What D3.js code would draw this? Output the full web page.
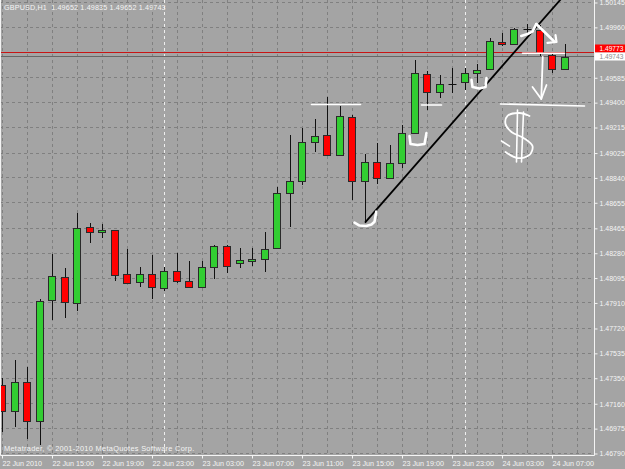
<!DOCTYPE html>
<html>
<head>
<meta charset="utf-8">
<script src="https://cdn.jsdelivr.net/npm/d3@7"></script>
<style>
  html, body { margin: 0; padding: 0; background: #a4a4a4; }
  svg { display: block; }
</style>
</head>
<body>
<div id="wrapper"></div>
<script>
// GBPUSD H1, bars from 22 Jun 11:00 to 24 Jun 08:00
const symbolTitle = "GBPUSD,H1  1.49652 1.49835 1.49652 1.49743"
const copyright = "Metatrader, \u00a9 2001-2010 MetaQuotes Software Corp."

const open  = [1.47300, 1.47108, 1.47320, 1.47034, 1.47930, 1.48103, 1.47912, 1.48477, 1.48436, 1.48453,
               1.48123, 1.48068, 1.48123, 1.48023, 1.48148, 1.48075, 1.48026, 1.48175, 1.48334, 1.48205,
               1.48222, 1.48235, 1.48316, 1.48726, 1.48817, 1.49105, 1.49159, 1.49011, 1.49295, 1.48819,
               1.48958, 1.48837, 1.48949, 1.49172, 1.49615, 1.49481, 1.49537, 1.49554, 1.49623, 1.49648,
               1.49853, 1.49834, 1.49946, 1.49940, 1.49754, 1.49652]
const high  = [1.47352, 1.47486, 1.47436, 1.47939, 1.48274, 1.48168, 1.48577, 1.48502, 1.48495, 1.48455,
               1.48311, 1.48180, 1.48267, 1.48180, 1.48279, 1.48220, 1.48222, 1.48338, 1.48338, 1.48319,
               1.48321, 1.48436, 1.48775, 1.49159, 1.49214, 1.49276, 1.49442, 1.49375, 1.49308, 1.49016,
               1.49098, 1.49083, 1.49234, 1.49717, 1.49635, 1.49606, 1.49660, 1.49656, 1.49688, 1.49879,
               1.49916, 1.49953, 1.49985, 1.49978, 1.49767, 1.49835]
const low   = [1.46950, 1.46989, 1.46898, 1.46853, 1.47783, 1.47796, 1.47852, 1.48358, 1.48395, 1.48073,
               1.48050, 1.48031, 1.47939, 1.47999, 1.48056, 1.48022, 1.48019, 1.48088, 1.48135, 1.48172,
               1.48185, 1.48138, 1.48312, 1.48477, 1.48787, 1.49031, 1.49008, 1.49004, 1.48676, 1.48507,
               1.48795, 1.48834, 1.48912, 1.49165, 1.49345, 1.49432, 1.49470, 1.49494, 1.49546, 1.49645,
               1.49821, 1.49830, 1.49911, 1.49747, 1.49623, 1.49652]
const close = [1.47108, 1.47320, 1.47034, 1.47924, 1.48108, 1.47917, 1.48470, 1.48436, 1.48453, 1.48120,
               1.48056, 1.48128, 1.48026, 1.48150, 1.48073, 1.48026, 1.48180, 1.48334, 1.48187, 1.48227,
               1.48239, 1.48313, 1.48726, 1.48815, 1.49105, 1.49152, 1.49011, 1.49303, 1.48819, 1.48958,
               1.48842, 1.48949, 1.49172, 1.49618, 1.49481, 1.49537, 1.49537, 1.49618, 1.49643, 1.49861,
               1.49834, 1.49946, 1.49946, 1.49767, 1.49648, 1.49743]

const yTicks = [1.50145, 1.49960, 1.49585, 1.49400, 1.49215, 1.49025, 1.48840, 1.48655, 1.48465,
                1.48280, 1.48095, 1.47910, 1.47720, 1.47535, 1.47350, 1.47160, 1.46975, 1.46790]
const xTickBars = [0, 4, 8, 12, 16, 20, 24, 28, 32, 36, 40, 44]
const xTickLabels = ["22 Jun 2010", "22 Jun 15:00", "22 Jun 19:00", "22 Jun 23:00", "23 Jun 03:00",
                     "23 Jun 07:00", "23 Jun 11:00", "23 Jun 15:00", "23 Jun 19:00", "23 Jun 23:00",
                     "24 Jun 03:00", "24 Jun 07:00"]
const daySeparators = [13, 37]
const bidPrice = 1.49743
const askPrice = 1.49773

// drawings on the chart, as [bar, price]
const trendLine = [[29, 1.48507], [45, 1.50205]]
const whiteStrokes = [
  {w: 2.6, pts: [[28.16, 1.48507], [28.56, 1.48486], [29.10, 1.48482], [29.52, 1.48494], [29.76, 1.48514], [29.90, 1.48589]]},
  {w: 1.6, pts: [[24.72, 1.49386], [28.64, 1.49386]]},
  {w: 2.6, pts: [[32.56, 1.49152], [32.64, 1.49092], [33.2, 1.49085], [33.76, 1.49092], [33.92, 1.49174]]},
  {w: 1.6, pts: [[33.52, 1.49383], [35.12, 1.49383]]},
  {w: 2.6, pts: [[37.52, 1.49569], [37.6, 1.49516], [38.16, 1.49505], [38.64, 1.49516], [38.72, 1.49583]]},
  {w: 2.6, pts: [[41.5, 1.49896], [42.0, 1.49911], [42.4, 1.49928], [42.7, 1.49985]]},
  {w: 2.6, pts: [[42.7, 1.49985], [44.16, 1.49853]]},
  {w: 2.2, pts: [[43.6, 1.49844], [44.32, 1.49851], [44.24, 1.49903]]},
  {w: 1.6, pts: [[41.6, 1.49767], [44.96, 1.49767]]},
  {w: 1.8, pts: [[43.22, 1.49740], [43.1, 1.49427]]},
  {w: 1.8, pts: [[42.4, 1.49516], [43.1, 1.49427], [43.52, 1.49531]]},
  {w: 1.6, pts: [[39.84, 1.49390], [46.56, 1.49375]]},
  {w: 1.8, curve: true, pts: [[42.16, 1.49301], [41.36, 1.49323], [40.4, 1.49301], [40.24, 1.49241], [40.72, 1.49182],
                              [41.68, 1.49137], [42.4, 1.49077], [42.16, 1.49011], [41.2, 1.48988], [40.24, 1.49033]]},
  {w: 1.6, pts: [[41.2, 1.49345], [41.12, 1.48958]]},
  {w: 1.6, pts: [[41.68, 1.49330], [41.52, 1.48958]]},
  {w: 1.6, pts: [[39.92, 1.49115], [40.56, 1.49077]]}
]

const width = 625
const height = 469
const plotRight = 594.5
const plotBottom = 455.5
const font = "'Liberation Sans', Arial, sans-serif"

const x = d3.scaleLinear().domain([0, 45]).range([2.5, 565])
const y = d3.scaleLinear().domain([1.46790, 1.50145]).range([453.5, 2.5])
const px = v => Math.floor(x(v)) + 0.5
const py = v => Math.floor(y(v)) + 0.5

const svg = d3.select("#wrapper")
  .append("svg")
  .attr("width", width)
  .attr("height", height)

svg.append("rect")
  .attr("width", width)
  .attr("height", height)
  .attr("fill", "#a4a4a4")

svg.append("clipPath").attr("id", "plot")
  .append("rect")
  .attr("width", plotRight)
  .attr("height", plotBottom)

// grid
const grid = svg.append("g")
  .attr("stroke", "#808080")
  .attr("stroke-dasharray", "3,3")
grid.selectAll(".h").data(yTicks).join("line")
  .attr("x1", 0).attr("x2", plotRight)
  .attr("y1", d => py(d)).attr("y2", d => py(d))
grid.selectAll(".v").data(d3.range(0, 47, 2)).join("line")
  .attr("x1", d => px(d)).attr("x2", d => px(d))
  .attr("y1", 0).attr("y2", plotBottom)

svg.append("g")
  .attr("stroke", "#eeeeee")
  .attr("stroke-dasharray", "3,3")
  .selectAll("line").data(daySeparators).join("line")
  .attr("x1", d => px(d)).attr("x2", d => px(d))
  .attr("y1", 0).attr("y2", plotBottom)

// ask / bid lines
svg.append("line")
  .attr("x1", 0).attr("x2", plotRight)
  .attr("y1", py(askPrice)).attr("y2", py(askPrice))
  .attr("stroke", "#c81414")
svg.append("line")
  .attr("x1", 0).attr("x2", plotRight)
  .attr("y1", py(bidPrice)).attr("y2", py(bidPrice))
  .attr("stroke", "#666666")

// candles
const bars = open.map((o, i) => ({i, o, h: high[i], l: low[i], c: close[i]}))
const candles = svg.append("g").attr("clip-path", "url(#plot)")

candles.selectAll(".wick").data(bars).join("line")
  .attr("x1", d => px(d.i)).attr("x2", d => px(d.i))
  .attr("y1", d => Math.round(y(d.h))).attr("y2", d => Math.round(y(d.l)))
  .attr("stroke", "#111")

candles.selectAll(".body").data(bars.filter(d => d.o !== d.c)).join("rect")
  .attr("x", d => Math.floor(x(d.i)) - 3.5)
  .attr("width", 7)
  .attr("y", d => Math.round(y(Math.max(d.o, d.c))) + 0.5)
  .attr("height", d => Math.max(1, Math.round(y(Math.min(d.o, d.c))) - Math.round(y(Math.max(d.o, d.c)))))
  .attr("fill", d => d.c > d.o ? "#32cd32" : "#ff0000")
  .attr("stroke", "#2a2a2a")

candles.selectAll(".doji").data(bars.filter(d => d.o === d.c)).join("line")
  .attr("x1", d => Math.floor(x(d.i)) - 3.5)
  .attr("x2", d => Math.floor(x(d.i)) + 4.5)
  .attr("y1", d => py(d.o)).attr("y2", d => py(d.o))
  .attr("stroke", "#111")

// drawings
const draw = svg.append("g").attr("clip-path", "url(#plot)")
draw.append("path")
  .attr("d", d3.line().x(d => x(d[0])).y(d => y(d[1]))(trendLine))
  .attr("stroke", "#000")
  .attr("stroke-width", 1.8)
  .attr("fill", "none")

draw.selectAll(".stroke").data(whiteStrokes).join("path")
  .attr("d", d => d3.line()
      .x(p => x(p[0])).y(p => y(p[1]))
      .curve(d.curve ? d3.curveCatmullRom : d3.curveLinear)(d.pts))
  .attr("stroke", "#fff")
  .attr("stroke-width", d => d.w)
  .attr("stroke-linecap", "round")
  .attr("stroke-linejoin", "round")
  .attr("fill", "none")

// frame
svg.append("path")
  .attr("d", `M0.5,0V${plotBottom}H${plotRight}V0`)
  .attr("stroke", "#f4f4f4")
  .attr("fill", "none")

// axes
const yAxis = d3.axisRight(y)
  .tickValues(yTicks)
  .tickSize(3)
  .tickSizeOuter(0)
  .tickFormat(d3.format(".5f"))
svg.append("g")
  .attr("transform", `translate(${plotRight},0)`)
  .call(yAxis)
  .attr("color", "#f4f4f4")
  .attr("font-size", 7)
  .attr("font-family", font)
  .call(g => g.select(".domain").remove())
  .call(g => g.selectAll("text").attr("x", 5))

const xAxis = d3.axisBottom(x)
  .tickValues(xTickBars)
  .tickSize(3)
  .tickSizeOuter(0)
  .tickFormat((d, i) => xTickLabels[i])
svg.append("g")
  .attr("transform", `translate(-0.5,${plotBottom})`)
  .call(xAxis)
  .attr("color", "#f4f4f4")
  .attr("font-size", 7.2)
  .attr("font-family", font)
  .call(g => g.select(".domain").remove())
  .call(g => g.selectAll("text").attr("text-anchor", "start").attr("x", 0).attr("y", 5))

// price labels on the right (ask box sits just above the bid box)
const labels = [
  {price: askPrice, top: py(bidPrice) - 12, bg: "#ff0000", fg: "#ffffff"},
  {price: bidPrice, top: py(bidPrice) - 4, bg: "#ffffff", fg: "#8c8c8c"}
]
const lab = svg.append("g").selectAll("g").data(labels).join("g")
  .attr("transform", d => `translate(${plotRight + 0.5},${d.top})`)
lab.append("rect")
  .attr("width", 31).attr("height", 8)
  .attr("fill", d => d.bg)
lab.append("text")
  .attr("x", 4.5).attr("y", 4).attr("dy", "0.35em")
  .attr("font-size", 6.6)
  .attr("font-family", font)
  .attr("fill", d => d.fg)
  .text(d => d3.format(".5f")(d.price))

// header and footer text
svg.append("text")
  .attr("x", 4).attr("y", 10)
  .attr("font-size", 7.2).attr("font-family", font)
  .attr("letter-spacing", 0.15)
  .attr("fill", "#f4f4f4")
  .attr("xml:space", "preserve")
  .text(symbolTitle)
svg.append("text")
  .attr("x", 4).attr("y", 451)
  .attr("font-size", 7.4).attr("font-family", font)
  .attr("letter-spacing", 0.3)
  .attr("fill", "#f4f4f4")
  .text(copyright)
</script>
</body>
</html>
